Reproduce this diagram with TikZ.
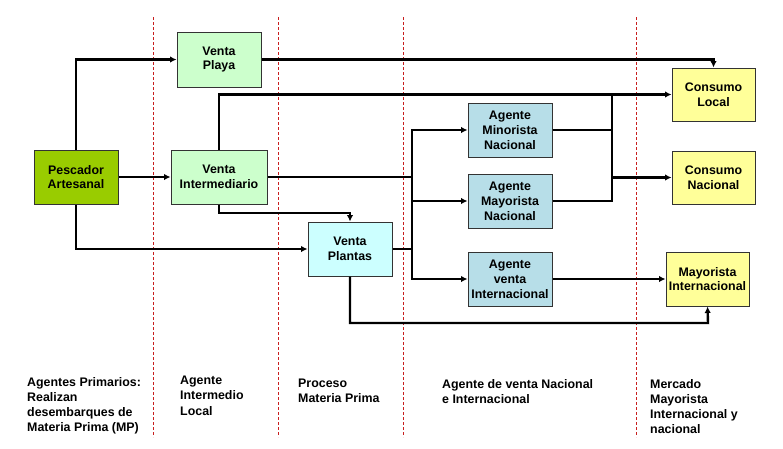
\documentclass[tikz,border=0pt]{standalone}
\usepackage{fontspec}
\setmainfont{Liberation Sans}
\usetikzlibrary{arrows.meta,calc}
\definecolor{pescfill}{HTML}{99CC00}
\definecolor{ventafill}{HTML}{CCFFCC}
\definecolor{plantafill}{HTML}{CCFFFF}
\definecolor{agentfill}{HTML}{B7DEE8}
\definecolor{consfill}{HTML}{FFFF99}
\definecolor{sepred}{HTML}{C81E1E}
\begin{document}
\begin{tikzpicture}[x=1pt,y=-1pt,
  every node/.style={font=\fontsize{12.4}{14.8}\selectfont\bfseries},
  box/.style={draw=black!80,line width=1pt,align=center,inner sep=0pt,minimum width=84pt,minimum height=54pt},
  flow/.style={line width=2.4pt,-{Latex[length=6.5pt,width=6.5pt]}},
  plain/.style={line width=2.4pt},
  thinflow/.style={line width=1.7pt,-{Latex[length=6.5pt,width=6.5pt]}},
  sep/.style={sepred,line width=0.9pt,dash pattern=on 3pt off 2pt},
  caption/.style={align=left,anchor=north west,inner sep=0pt,font=\fontsize{12.4}{15.2}\selectfont\bfseries}]
\useasboundingbox (0,0) rectangle (783,448);
\fill[white] (0,0) rectangle (783,448);
% separators
\coordinate (s1t) at (153,17); \coordinate (s1b) at (153,437);
\coordinate (s2t) at (278,17); \coordinate (s2b) at (278,437);
\coordinate (s3t) at (403,17); \coordinate (s3b) at (403,437);
\coordinate (s4t) at (636,17); \coordinate (s4b) at (636,437);
\draw[sep] (s1t) -- (s1b);
\draw[sep] (s2t) -- (s2b);
\draw[sep] (s3t) -- (s3b);
\draw[sep] (s4t) -- (s4b);
% nodes
\node[box,fill=pescfill] (pesc) at (76,177) {Pescador\\Artesanal};
\node[box,fill=ventafill,minimum height=55pt] (playa) at (219,59.5) {Venta\\Playa};
\node[box,fill=ventafill,minimum width=96pt] (inter) at (219,177) {Venta\\Intermediario};
\node[box,fill=plantafill] (plantas) at (350,249) {Venta\\Plantas};
\node[box,fill=agentfill] (mino) at (510,130) {Agente\\Minorista\\Nacional};
\node[box,fill=agentfill] (mayo) at (510,201) {Agente\\Mayorista\\Nacional};
\node[box,fill=agentfill] (intl) at (510,279) {Agente\\venta\\Internacional};
\node[box,fill=consfill,minimum width=83pt,minimum height=53pt] (clocal) at (713.5,94.5) {Consumo\\Local};
\node[box,fill=consfill,minimum width=83pt,minimum height=53pt] (cnac) at (713.5,177.5) {Consumo\\Nacional};
\node[box,fill=consfill,minimum width=83pt] (mint) at (707.5,279) {Mayorista\\Internacional};
% junctions
\coordinate (busL) at (412,177);
\coordinate (busLtop) at (412,130);
\coordinate (busLbot) at (412,279);
\coordinate (busR) at (612,177.5);
\coordinate (busRtop) at (612,94.5);
\coordinate (busRbot) at (612,201);
\coordinate (ipbend) at (219,213);
\coordinate (plbend) at (708,323);
% connectors
\draw[flow] (pesc.north) |- (playa.west);
\draw[flow] (pesc.east) -- (inter.west);
\draw[flow] (pesc.south) |- (plantas.west);
\draw[flow] (playa.east) -| (clocal.north);
\draw[flow] (inter.north) |- (clocal.west);
\draw[flow] (inter.south) -- (ipbend) -| (plantas.north);
\draw[plain] (inter.east) -- (busL);
\draw[plain] (plantas.east) -| (busL);
\draw[plain,line cap=rect] (busLtop) -- (busLbot);
\draw[flow] (busLtop) -- (mino.west);
\draw[flow] (busL |- mayo.west) -- (mayo.west);
\draw[flow] (busLbot) -- (intl.west);
\draw[plain] (mino.east) -| (busR);
\draw[plain] (mayo.east) -| (busR);
\draw[plain,line cap=rect] (busRtop) -- (busRbot);
\draw[flow] (busR) -- (cnac.west);
\draw[thinflow] (intl.east) -- (mint.west);
\draw[flow] (plantas.south) |- (plbend) -- (mint.south);
% captions
\node[caption] (c1) at (27,377) {Agentes Primarios:\\Realizan\\desembarques de\\Materia Prima (MP)};
\node[caption] (c2) at (180,376) {Agente\\Intermedio\\Local};
\node[caption] (c3) at (298,379) {Proceso\\Materia Prima};
\node[caption] (c4) at (442,379) {Agente de venta Nacional\\e Internacional};
\node[caption] (c5) at (650,379) {Mercado\\Mayorista\\Internacional y\\nacional};
\end{tikzpicture}
\end{document}
